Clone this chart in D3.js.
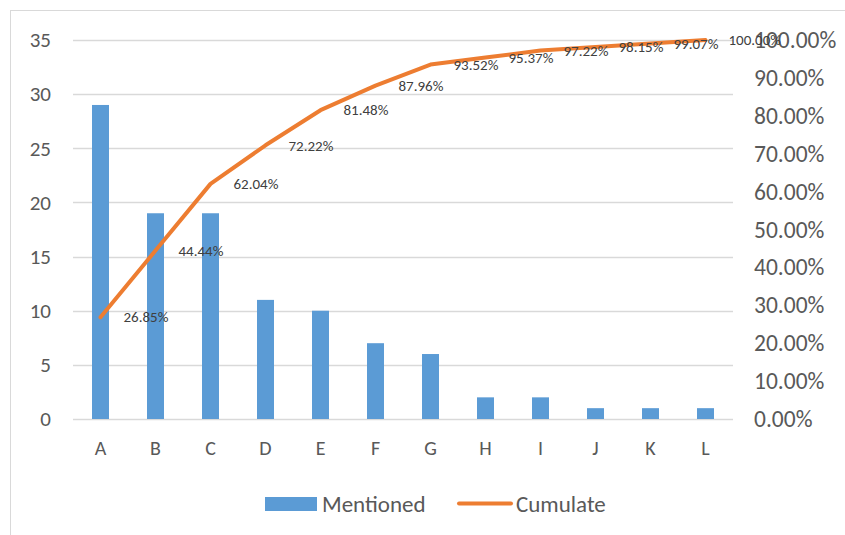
<!DOCTYPE html>
<html>
<head>
<meta charset="utf-8">
<script src="https://cdn.jsdelivr.net/npm/d3@7"></script>
<style>
  body { margin: 0; background: #fff; }
  svg text { font-family: Calibri, Carlito, Lato, "Open Sans", sans-serif; }
</style>
</head>
<body>
<div id="chart"></div>
<script>
"use strict";

// data
var categories = ["A", "B", "C", "D", "E", "F", "G", "H", "I", "J", "K", "L"];
var mentioned = [29, 19, 19, 11, 10, 7, 6, 2, 2, 1, 1, 1];
var cumulate = [0.2685, 0.4444, 0.6204, 0.7222, 0.8148, 0.8796, 0.9352, 0.9537, 0.9722, 0.9815, 0.9907, 1.0];
var leftTicks = [0, 5, 10, 15, 20, 25, 30, 35];
var rightTicks = [0, 0.1, 0.2, 0.3, 0.4, 0.5, 0.6, 0.7, 0.8, 0.9, 1.0];

var W = 845, H = 535;
var margin = { top: 40, right: 112, bottom: 116, left: 73 };
var width = W - margin.left - margin.right;
var height = H - margin.top - margin.bottom;

var root = d3.select("#chart").append("svg")
    .attr("width", W)
    .attr("height", H);

// chart frame (cut at right / bottom like the screenshot)
root.append("rect")
    .attr("x", 10.5).attr("y", 10.5)
    .attr("width", W).attr("height", H)
    .attr("fill", "none")
    .attr("stroke", "#d9d9d9");

var svg = root.append("g")
    .attr("transform", `translate(${margin.left},${margin.top})`);

// scales
var x = d3.scaleBand()
    .domain(categories)
    .range([0, width]);

var y = d3.scaleLinear()
    .domain([0, 35])
    .range([height, 0]);

var y2 = d3.scaleLinear()
    .domain([0, 1])
    .range([height, 0]);

// gridlines
svg.append("g")
    .selectAll("line")
    .data(leftTicks)
    .join("line")
    .attr("x1", 0).attr("x2", width)
    .attr("y1", d => Math.round(y(d)) + 0.5)
    .attr("y2", d => Math.round(y(d)) + 0.5)
    .attr("stroke", "#d9d9d9")
    .attr("stroke-width", 1.3);

// left axis
var leftAxis = svg.append("g")
    .call(d3.axisLeft(y).tickValues(leftTicks).tickSize(0).tickPadding(22));
leftAxis.select(".domain").remove();
leftAxis.selectAll("text")
    .attr("fill", "#595959")
    .style("font-size", "21px");

// right axis
var rightAxis = svg.append("g")
    .attr("transform", `translate(${width},0)`)
    .call(d3.axisRight(y2).tickValues(rightTicks).tickSize(0).tickPadding(21)
        .tickFormat(d => (d * 100).toFixed(2) + "%"));
rightAxis.select(".domain").remove();
rightAxis.selectAll("text")
    .attr("fill", "#595959")
    .style("font-size", "23.5px");

// bottom axis
var bottomAxis = svg.append("g")
    .attr("transform", `translate(0,${height})`)
    .call(d3.axisBottom(x).tickSize(0).tickPadding(22));
bottomAxis.select(".domain").remove();
bottomAxis.selectAll("text")
    .attr("fill", "#595959")
    .style("font-size", "20px");

// bars
var barW = 17;
svg.selectAll(".bar")
    .data(mentioned)
    .join("rect")
    .attr("class", "bar")
    .attr("x", (d, i) => x(categories[i]) + x.bandwidth() / 2 - barW / 2)
    .attr("y", d => y(d))
    .attr("width", barW)
    .attr("height", d => height - y(d))
    .attr("fill", "#5b9bd5");

// cumulative line
var line = d3.line()
    .x((d, i) => x(categories[i]) + x.bandwidth() / 2)
    .y(d => y2(d));

svg.append("path")
    .datum(cumulate)
    .attr("fill", "none")
    .attr("stroke", "#ed7d31")
    .attr("stroke-width", 4)
    .attr("stroke-linejoin", "round")
    .attr("stroke-linecap", "round")
    .attr("d", line);

// data labels
svg.selectAll(".lbl")
    .data(cumulate)
    .join("text")
    .attr("class", "lbl")
    .attr("x", (d, i) => x(categories[i]) + x.bandwidth() / 2 + 23)
    .attr("y", d => y2(d))
    .attr("dy", "0.35em")
    .attr("fill", "#404040")
    .style("font-size", "15px")
    .text(d => (d * 100).toFixed(2) + "%");

// legend
var legend = root.append("g");
legend.append("rect")
    .attr("x", 265).attr("y", 497)
    .attr("width", 52).attr("height", 14)
    .attr("fill", "#5b9bd5");
legend.append("text")
    .attr("x", 322).attr("y", 504)
    .attr("dy", "0.35em")
    .attr("fill", "#595959")
    .style("font-size", "23px")
    .text("Mentioned");
legend.append("line")
    .attr("x1", 459).attr("x2", 511)
    .attr("y1", 503.5).attr("y2", 503.5)
    .attr("stroke", "#ed7d31")
    .attr("stroke-width", 4)
    .attr("stroke-linecap", "round");
legend.append("text")
    .attr("x", 516).attr("y", 504)
    .attr("dy", "0.35em")
    .attr("fill", "#595959")
    .style("font-size", "23px")
    .text("Cumulate");
</script>
</body>
</html>
